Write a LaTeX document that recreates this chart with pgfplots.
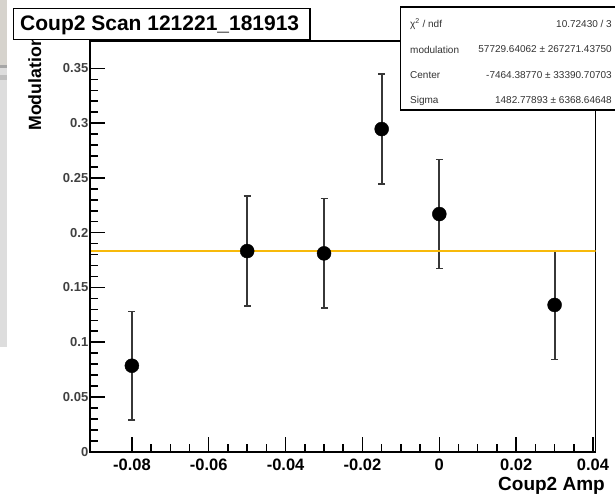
\documentclass[border=0pt]{standalone}
\usepackage{pgfplots}
\usepackage{pgfplotstable}
\pgfplotsset{compat=1.18}
\usepackage{fontspec}
\setmainfont{Liberation Sans}
\definecolor{fitorange}{RGB}{247,185,10}
\definecolor{errgray}{RGB}{55,55,55}
\definecolor{stripA}{RGB}{214,211,205}
\definecolor{stripB}{RGB}{221,221,221}

\pgfplotstableread{
x y e
-0.08 0.0785 0.0495
-0.05 0.1832 0.0502
-0.03 0.1811 0.0498
-0.015 0.2946 0.0502
0 0.2170 0.0495
0.03 0.1340 0.0495
}\datatable

\begin{document}
\begin{tikzpicture}
% left window strip of the screenshot
\fill[stripA] (0pt,428pt) rectangle (7pt,493pt);
\fill[stripB] (0pt,146pt) rectangle (7pt,428pt);
\fill[black!35] (0pt,425pt) rectangle (7pt,428pt);
\fill[black!25] (0pt,413pt) rectangle (7pt,418pt);

\begin{axis}[
  name=ax,
  at={(90pt,41.3pt)}, anchor=south west,
  scale only axis,
  width=505.7pt, height=410.7pt,
  xmin=-0.0909, xmax=0.0407, ymin=0, ymax=0.375,
  xtick={-0.08,-0.06,-0.04,-0.02,0,0.02,0.04},
  xticklabels={-0.08,-0.06,-0.04,-0.02,0,0.02,0.04},
  ytick={0,0.05,0.1,0.15,0.2,0.25,0.3,0.35},
  yticklabels={0,0.05,0.1,0.15,0.2,0.25,0.3,0.35},
  scaled ticks=false,
  minor x tick num=3,
  minor y tick num=4,
  tick pos=left,
  tick align=inside,
  major tick length=15pt,
  minor tick length=8pt,
  tick style={line width=1.5pt, black},
  axis line style={line width=1.3pt},
  x tick label style={font=\fontsize{16.5}{18}\selectfont\bfseries, anchor=base, yshift=-18.3pt, inner sep=0pt},
  y tick label style={font=\fontsize{13}{14}\selectfont\bfseries, anchor=east, inner sep=0pt, xshift=-1.5pt, text=black!75},
  /pgf/number format/assume math mode=true,
]
\addplot[only marks, mark=*, mark size=7pt, black,
  error bars/.cd, y dir=both, y explicit,
  error bar style={line width=1.8pt, errgray},
  error mark options={rotate=90, mark size=3.5pt, line width=1.2pt, errgray}]
  table[x=x, y=y, y error=e] {\datatable};
\addplot[fitorange, line width=2.5pt] coordinates {(-0.0909,0.1832) (0.0407,0.1832)};
\end{axis}
\draw[line width=2.4pt] (ax.north west) -- (ax.south west) -- (ax.south east);

% axis titles
\node[rotate=90, anchor=base east, inner sep=0pt, font=\fontsize{17.7}{18}\selectfont\bfseries] at (41pt,457pt) {Modulation};
\node[anchor=base east, inner sep=0pt, font=\fontsize{19}{20}\selectfont\bfseries] at (605pt,2.5pt) {Coup2 Amp};

% title box
\draw[line width=1.3pt, fill=white] (13.3pt,484.7pt) rectangle (310pt,453.5pt);
\node[anchor=base west, inner sep=0pt, font=\fontsize{21}{22}\selectfont\bfseries] at (20pt,462.3pt) {Coup2 Scan 121221\_181913};

% stats box
\draw[line width=1.2pt, fill=white] (400.5pt,486pt) rectangle (640pt,383pt);
\begin{scope}[every node/.style={inner sep=0pt, font=\fontsize{10}{11}\selectfont, text=black!80}]
\node[anchor=west] at (410pt,469pt) {χ\textsuperscript{2} / ndf};
\node[anchor=east] at (612pt,469pt) {10.72430 / 3};
\node[anchor=west] at (410pt,443.5pt) {modulation};
\node[anchor=east] at (612pt,443.5pt) {57729.64062 ± 267271.43750};
\node[anchor=west] at (410pt,418pt) {Center};
\node[anchor=east] at (612pt,418pt) {-7464.38770 ± 33390.70703};
\node[anchor=west] at (410pt,392.5pt) {Sigma};
\node[anchor=east] at (612pt,392.5pt) {1482.77893 ± 6368.64648};
\end{scope}

\pgfresetboundingbox
\path[use as bounding box] (0pt,0pt) rectangle (615pt,493pt);
\end{tikzpicture}
\end{document}
